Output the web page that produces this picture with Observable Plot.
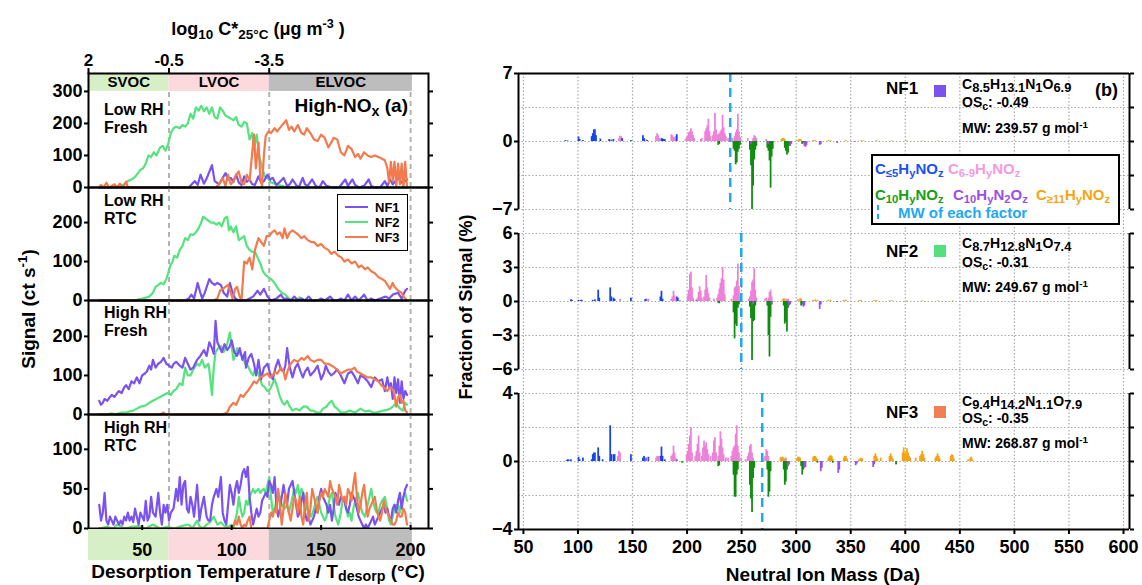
<!DOCTYPE html>
<html><head><meta charset="utf-8">
<script src="https://cdn.jsdelivr.net/npm/d3@7"></script>
<script src="https://cdn.jsdelivr.net/npm/@observablehq/plot@0.6"></script>
<style>
body{margin:0;background:#fff;}
#root{position:relative;width:1142px;height:585px;overflow:hidden;font-family:"Liberation Sans",Arial,sans-serif;font-weight:bold;color:#000;background:#fff;}
.lbl{position:absolute;white-space:nowrap;line-height:1;}
.lbl sub{font-size:75%;vertical-align:-0.28em;line-height:0;}
.lbl sup{font-size:70%;vertical-align:0.55em;line-height:0;}
.fm sub{font-size:92%;vertical-align:-0.22em;}
.xt sub{vertical-align:-0.18em;}
</style>
</head><body><div id="root"></div>
<script>
// ---------------- DATA: panel (a) thermograms [T (°C), signal (ct/s)] ----------------
const lowFreshNF1 = [[26,0],[40,0],[60,0],[76,0],[78,12],[79.5,20],[81,8],[82.6,40],[84.5,12],[86,28],[89,70],[90.5,20],[93,10],[95,30],[96.6,45],[98,25],[99.5,30],[101,18],[102.5,40],[104,15],[105.5,8],[107,35],[108.5,18],[110,25],[111.5,10],[113,8],[115,35],[116.5,15],[118,20],[120,40],[121.5,25],[123,30],[125,8],[126.5,15],[129,30],[131,5],[132.5,10],[134,25],[136,8],[137.5,0],[139.7,30],[141,10],[142.5,5],[145,25],[147,5],[149,0],[151,20],[153,5],[156,0],[160,0],[163.5,25],[165,5],[167.5,25],[169,8],[171,0],[174,5],[176.6,25],[178,5],[180,0],[183,0],[185.6,20],[187,5],[188.5,25],[190,10],[193,30],[195,15],[197,20],[198,25]];
const lowFreshNF2 = [[26,0],[30,0],[34,2],[37,5],[40,10],[42,20],[44,25],[45.5,30],[47,40],[49,55],[50.5,60],[52,75],[53.5,100],[55,95],[56.5,110],[58,100],[60,125],[61.5,130],[63,115],[64.5,135],[66,170],[67.5,185],[69,190],[71,185],[72.5,195],[74,190],[75.5,200],[77,230],[78.5,215],[80,250],[81.5,240],[83,255],[84.5,238],[86,250],[87.5,230],[89,250],[90.5,220],[92,215],[93.5,250],[95,240],[96.5,225],[98,220],[99.5,215],[101,210],[102.5,220],[104,195],[105.5,190],[107,205],[108.5,200],[110,150],[111.5,170],[112.5,120],[114,165],[115.5,95],[117,63],[118.5,35],[120,30],[122,16],[124,12],[126,8],[128,5],[130,2],[133,0],[198,0]];
const lowFreshNF3 = [[26,0],[27,8],[28.5,0],[30,15],[31.5,0],[33,5],[34.5,10],[36,0],[37.5,12],[39,0],[41,18],[42,0],[60,0],[80,0],[91,0],[93,10],[95,30],[96.5,5],[98,40],[99.5,10],[101,20],[102.5,40],[104,50],[105.5,15],[107,10],[108.5,40],[110,20],[111.5,110],[112.5,165],[113.5,60],[115,140],[116,30],[117,5],[118,100],[119,160],[120.5,175],[122,170],[124,185],[125.5,175],[127.5,190],[129,200],[130.5,210],[132,180],[133.5,190],[135,175],[137,195],[139,170],[140.5,165],[142,185],[144,170],[146,150],[148,145],[150,165],[152,155],[154,125],[155.6,140],[157,155],[159,150],[161,110],[163,100],[165,130],[167,120],[169,95],[170.6,105],[172,90],[174,110],[176,100],[178,95],[180,100],[182,95],[184,90],[185.6,85],[187,60],[188,15],[189,80],[190,20],[191,80],[192,5],[193,75],[194,10],[195,75],[196,0],[197,80],[198,0]];

const lowRtcNF1 = [[26,0],[60,0],[74,0],[76,5],[77.5,15],[79,5],[81,45],[82.5,20],[83.5,5],[85,20],[87.5,55],[89,45],[90.5,40],[92,45],[94,40],[95.5,20],[97.5,10],[99,45],[100.5,20],[102,5],[104,0],[108,0],[110,5],[112,10],[114.5,25],[116,15],[118,30],[120,10],[122,0],[125,5],[127.5,15],[129,5],[131,5],[133,0],[135,10],[137,0],[139,5],[141,0],[143,10],[145,0],[148,0],[150,5],[152,0],[155,10],[157,0],[159,0],[161,5],[163,0],[165,15],[167,0],[169,10],[171,0],[174,15],[176,0],[178,5],[180,0],[183,5],[186,10],[188,5],[190,15],[193,20],[195,5],[197,25],[198,30]];
const lowRtcNF2 = [[26,0],[40,0],[46,0],[48,3],[50,5],[52.6,8],[54,10],[56,20],[57.5,35],[59,40],[60.5,45],[62,42],[63.5,55],[64.5,70],[65.7,90],[67,100],[68,115],[69.5,110],[71,130],[72.5,140],[74,160],[75.5,155],[77,170],[78.5,168],[80,175],[81.5,185],[83,200],[84,215],[85.5,210],[87,205],[88.5,200],[90,200],[91.5,195],[93,200],[94.5,190],[96,210],[97.5,215],[98.5,180],[99.5,190],[101,175],[102.5,190],[104,155],[105.5,160],[107,165],[108.5,140],[110,130],[111.5,125],[113,125],[114.5,110],[116,95],[117.5,75],[119,65],[120.5,60],[122,55],[124,45],[126,30],[128,20],[130,15],[132,5],[134,3],[136,0],[138,8],[140,2],[142,0],[198,0]];
const lowRtcNF3 = [[26,0],[60,0],[90,0],[92,5],[93.5,25],[95,30],[96.5,35],[98,40],[99.5,20],[100.5,5],[102,30],[103,35],[104.5,10],[105.5,0],[107,100],[108.5,95],[110,110],[111.5,80],[113,130],[115,160],[116.5,150],[118,140],[119.5,165],[121,165],[122.5,175],[124,180],[125.5,170],[127,175],[128.5,160],[129.5,185],[131,160],[132.5,175],[134,180],[135.5,175],[137,170],[139,160],[140.6,165],[142.5,155],[144.5,150],[146,150],[148,140],[150,145],[152,135],[154,130],[155.6,120],[157.5,125],[159.6,115],[161.5,110],[163,100],[165,105],[167,95],[169,100],[171,85],[172.5,90],[174.5,80],[176,85],[178,75],[180,70],[182,60],[184,55],[185.7,50],[187,40],[188.5,30],[190,45],[191,35],[193,25],[195,20],[196,10],[197,5],[198,0]];

const highFreshNF1 = [[26,35],[27,25],[28,30],[29,40],[30.5,35],[32,45],[33,50],[34.5,45],[36,55],[37,60],[38.5,55],[40,70],[41,75],[42.5,65],[44,85],[45.5,80],[47,95],[48.5,80],[50,100],[51.5,105],[52.6,110],[54,125],[55,115],[56,140],[57.5,120],[59,130],[60.5,135],[62,145],[63.5,130],[65,125],[66.5,120],[67.6,130],[69,135],[71,125],[72.5,120],[74,145],[75.5,130],[77,115],[78.5,120],[80.7,140],[82.5,150],[84.5,165],[86,150],[87.5,185],[89,170],[90,155],[91,240],[92,185],[93,175],[94.5,160],[96,180],[97.5,165],[99,175],[100,190],[101.5,160],[103,150],[104.5,170],[106,140],[107.5,160],[108,120],[109.5,145],[111,155],[112.5,130],[113.7,100],[115,140],[116.5,90],[118,120],[120,130],[121.5,105],[123,90],[124.5,120],[126,140],[127.5,115],[129,110],[130,125],[131,170],[132.5,120],[134,95],[135.5,120],[137,130],[138.5,110],[139.8,95],[141,110],[142.5,120],[144,100],[146,110],[148,125],[150,90],[151.5,105],[152.6,125],[154,110],[155.6,100],[157,105],[159,115],[161,100],[163,80],[165,105],[167,110],[169,95],[170.6,80],[172,100],[174,95],[176,85],[178,70],[180,95],[182,85],[184,90],[185.6,60],[187,95],[188,70],[189,80],[190,40],[191,95],[192,55],[193,90],[194,30],[195,85],[196,40],[197,60],[198,50]];
const highFreshNF2 = [[26,0],[30,0],[33,3],[35,0],[38,5],[41,5],[43,8],[45,10],[47,15],[49,20],[51,22],[52.6,25],[54,30],[56,35],[58,40],[60,45],[62,50],[64,55],[66,50],[67.5,60],[69,65],[71,80],[72.5,75],[74,120],[75.5,100],[77,100],[78.5,115],[80.7,130],[82,125],[83.5,140],[85,120],[87,130],[87.5,115],[89,50],[90,120],[91,160],[92.5,170],[94,175],[95.5,160],[97.5,180],[99,210],[100,175],[101,140],[102,150],[103,170],[104.5,155],[106,150],[107.5,130],[109,125],[110.5,110],[112,100],[113,115],[114.5,110],[116,90],[117,75],[118.5,70],[120,60],[121.5,65],[123,80],[124,90],[125.5,70],[127,45],[128.5,30],[129.5,25],[131,35],[132.5,20],[134,10],[136,15],[138,10],[140,20],[142,20],[144,10],[145.7,10],[147.5,5],[149.5,5],[151,15],[153,20],[154.5,30],[156,35],[157.5,20],[159,15],[161,5],[163,5],[166,10],[169,5],[172,15],[174.5,8],[177,10],[179,5],[181,5],[183,8],[185,10],[187,12],[188.7,15],[190,20],[192,30],[194,15],[195.6,10],[197,30],[198,25]];
const highFreshNF3 = [[26,0],[60,0],[62,5],[63,0],[95,0],[97.5,5],[99,20],[101,30],[102.5,25],[104,40],[105,50],[106.5,45],[108,55],[109,60],[110.5,70],[112.5,85],[114,80],[116,95],[118,100],[120,105],[121.5,95],[123,100],[124,110],[125.5,105],[127.5,120],[129,110],[130,90],[131.5,115],[133,130],[135,140],[137,135],[139,145],[140.5,140],[142.5,150],[144,140],[146,135],[148,140],[150,140],[152,130],[154,130],[156,125],[157.5,120],[159,115],[161,105],[163,110],[165,115],[167,115],[168.7,120],[170,110],[172,105],[174,100],[176,95],[178,95],[180,90],[182,85],[183.6,75],[185,70],[187,60],[188.5,70],[190,65],[191,50],[192,20],[193,45],[194,50],[195,30],[196,35],[197,10],[198,5]];

const highRtcNF1 = [[26,30],[27,10],[28,20],[29,45],[30,10],[31,5],[32,15],[33,10],[34,5],[35,15],[36,10],[37,5],[38,10],[39,5],[40,15],[41,10],[42,20],[43,10],[44,15],[45,8],[46,25],[47,15],[48,5],[49,20],[50,15],[51,10],[52,35],[53,10],[54,15],[55,40],[56,20],[57.5,15],[59,45],[60,20],[61,5],[62,30],[63,20],[64,30],[65,10],[66,20],[67.5,25],[69,50],[70,35],[71,65],[72,30],[73,55],[74,60],[75,25],[76,20],[77,40],[78,30],[79,15],[80.7,55],[82,10],[83,25],[84.5,40],[86,15],[87,10],[88,10],[89,30],[90,40],[91.5,50],[92.5,40],[94,65],[95,20],[96,10],[97,5],[98,30],[99,55],[100,45],[101,30],[102,50],[103,60],[104,45],[105,55],[106,70],[107,75],[108,65],[109,78],[110,40],[111,20],[112,5],[113,15],[114,25],[115,15],[116,20],[117,35],[118,40],[119,45],[120,40],[121,60],[122,55],[123,45],[124,65],[125,30],[126,15],[127,25],[128,40],[129,55],[130,40],[131,30],[132,50],[133,55],[134,60],[135,45],[136,30],[137,15],[138,20],[139,35],[140,45],[141,20],[142,10],[143,15],[144,5],[145,10],[146,15],[147,25],[148,20],[149,40],[150,50],[151,40],[152,35],[153,30],[154,20],[155,30],[156,10],[157,25],[158,45],[159,35],[160,30],[161,40],[163,35],[164,25],[165,20],[166,30],[167,45],[168,40],[169,35],[170,25],[171,15],[172,10],[173,5],[174,0],[175,5],[176,0],[177,5],[178,10],[179,15],[180,5],[181,10],[182,15],[183,20],[184,25],[185,30],[186,20],[187,25],[188,15],[189,10],[190,25],[191,30],[192,20],[193,35],[194,45],[195,25],[196,40],[197,50],[198,55]];
const highRtcNF2 = [[26,0],[30,2],[34,0],[36,5],[38,3],[40,0],[44,2],[48,3],[52,0],[56,5],[60,0],[64,2],[68,0],[72,3],[76,5],[78,0],[80.7,10],[82,3],[84,0],[86,5],[88,8],[90,15],[92,5],[94,8],[96,3],[98,2],[100,5],[101,0],[102,10],[103,20],[104,40],[105,25],[106,15],[107,20],[108,35],[109,30],[110,40],[111,45],[112,50],[113,45],[114,48],[115,50],[116,45],[117,48],[118,50],[119,45],[120,55],[121,65],[122,40],[123,20],[124,25],[125,35],[126,45],[127,40],[128,30],[129.6,25],[131,30],[132,20],[133,30],[134,40],[135,50],[136,45],[137,55],[138,40],[139,50],[140,45],[141,35],[142,25],[143,20],[144.5,15],[146,25],[147,35],[148,40],[149,30],[150,20],[151,15],[152,10],[153,15],[154,30],[155,40],[156,45],[157,30],[158,15],[159.6,5],[161,20],[162,35],[163,40],[164,25],[165,15],[166,20],[167,10],[168,25],[169,35],[170.6,45],[172,30],[173,20],[174.5,15],[176,30],[177,40],[178,50],[179,35],[180,25],[181,20],[182,20],[183,30],[184,35],[185.6,40],[187,25],[188,10],[189,5],[190,15],[191,25],[192,30],[193,30],[194,20],[195,35],[196,40],[197,45],[198,35]];
const highRtcNF3 = [[26,0],[60,0],[100,0],[101,3],[102,10],[103,5],[104,15],[105,5],[106,0],[107,5],[108,3],[109,10],[110,15],[111,0],[120,0],[121,10],[122,20],[123,15],[124,25],[125,20],[126,50],[127,30],[128,5],[129,25],[130,45],[131,30],[132,20],[133,10],[134,25],[135,40],[136,35],[137,20],[138,40],[139,15],[140,5],[141,30],[142,45],[143,10],[144,25],[145,50],[146,40],[147,30],[148,20],[149,35],[150,45],[151,40],[152,50],[153,45],[154,40],[155,60],[156,50],[157,45],[158,40],[159,30],[160,55],[161,45],[162,35],[163,40],[164,30],[165,50],[166,45],[167,35],[168,55],[169,70],[170,40],[171,20],[172,30],[173,45],[174,55],[175,35],[176,15],[177,25],[178,30],[179,35],[180,40],[181,25],[182,15],[183,10],[184,20],[185,35],[186,25],[187,20],[188,15],[189,10],[190,5],[191,5],[192,10],[193,20],[194,15],[195,15],[196,25],[197,20],[198,5]];

// panel (a) axes / categories
const factorNames = ["NF1","NF2","NF3"];
const factorColors = ["#7a52f0","#55e37e","#f27a4c"];
const factorSquares = ["#7b52ee","#55e07e","#f07f55"];
const panelLabels = ["Low RH<br>Fresh","Low RH<br>RTC","High RH<br>Fresh","High RH<br>RTC"];
const p1Ticks = [0,100,200,300];
const p2Ticks = [0,100,200];
const p3Ticks = [0,100,200];
const p4Ticks = [0,50,100];
const topTickTemps = [20,65,121];
const topTickLabels = ["2","-0.5","-3.5"];
const bottomTicks = [50,100,150,200];
const bandNames = ["SVOC","LVOC","ELVOC"];
const bandEdges = [20,65,121,201];
const bandColors = ["#d7efc6","#fcd9dd","#bdbdbd"];
const dashTemps = [65,121,200];

// ---------------- DATA: panel (b) mass spectra [mass (Da), fraction (%), family] ----------------
const catKeys = ["C5","C69","C10","C10N2","C11"];
const catColors = ["#1444ec","#ee80d8","#0f8c0f","#9a4fe6","#f5a30e"];
const nf1Bars = [
[89,0.1,"C5"],[91,0.05,"C5"],[101,0.45,"C5"],[102,0.2,"C5"],[105,0.1,"C5"],
[113,0.5,"C5"],[114,0.8,"C5"],[115,1.2,"C5"],[116,1.2,"C5"],[117,0.6,"C5"],[121,0.25,"C5"],
[129,0.2,"C5"],[131,0.15,"C5"],[133,0.2,"C5"],
[138,0.3,"C69"],[139,0.55,"C69"],[140,0.5,"C69"],[141,0.3,"C5"],[149,0.1,"C5"],
[160,0.6,"C5"],[161,0.3,"C5"],[163,0.2,"C69"],[164,0.1,"C5"],
[172,0.5,"C69"],[173,0.8,"C69"],[174,0.6,"C69"],[175,0.3,"C69"],[177,0.3,"C5"],[178,0.25,"C5"],[179,0.2,"C5"],[180,0.2,"C5"],
[186,0.7,"C69"],[187,0.6,"C69"],[188,0.4,"C69"],[189,0.4,"C69"],[190,0.5,"C69"],[191,0.7,"C5"],
[199,0.2,"C69"],[200,0.4,"C69"],[201,0.6,"C69"],[202,0.9,"C69"],[203,1.0,"C69"],[204,1.3,"C69"],[205,1.0,"C69"],[206,0.6,"C69"],[207,0.3,"C69"],
[213,0.2,"C69"],[214,0.3,"C69"],
[217,1.0,"C69"],[218,1.3,"C69"],[219,1.6,"C69"],[220,2.3,"C69"],[221,1.0,"C69"],[222,0.5,"C69"],
[224,0.6,"C69"],[225,1.0,"C69"],[226,2.9,"C69"],[227,1.2,"C69"],[228,0.7,"C69"],[229,0.7,"C69"],[230,0.8,"C69"],[231,1.0,"C69"],[232,1.2,"C69"],[233,2.7,"C69"],[234,1.4,"C69"],[235,0.8,"C69"],[236,0.5,"C69"],
[238,0.3,"C69"],[240,0.3,"C69"],[242,0.3,"C69"],[244,0.5,"C69"],[245,0.9,"C69"],[246,1.2,"C69"],[247,2.8,"C69"],[248,1.0,"C69"],[249,0.4,"C69"],
[256,0.3,"C69"],[261,0.3,"C69"],[262,0.6,"C69"],[263,0.5,"C69"],[264,0.3,"C69"],[273,0.2,"C69"],
[287,0.2,"C11"],[288,0.3,"C11"],[289,0.3,"C11"],[290,0.2,"C11"],[302,0.1,"C11"],[303,0.2,"C11"],[304,0.2,"C11"],[305,0.15,"C11"],
[316,0.1,"C11"],[318,0.1,"C11"],[330,0.1,"C11"],[332,0.08,"C11"],[346,0.1,"C11"],[360,0.08,"C11"],[362,0.06,"C11"],[374,0.08,"C11"],[388,0.06,"C11"],[402,0.06,"C11"],[416,0.05,"C11"],[430,0.05,"C11"],
[229,-0.4,"C10"],[230,-0.3,"C10"],[243,-0.8,"C10"],[244,-1.0,"C10"],[245,-2.4,"C10"],[246,-2.2,"C10"],[247,-1.1,"C10"],[248,-0.8,"C10"],[249,-0.4,"C10"],
[258,-0.9,"C10"],[259,-2.5,"C10"],[260,-7.0,"C10"],[261,-4.6,"C10"],[262,-1.9,"C10"],[263,-0.9,"C10"],[264,-0.5,"C10"],
[274,-0.7,"C10"],[275,-1.0,"C10"],[276,-2.0,"C10"],[277,-4.8,"C10"],[278,-1.6,"C10"],[279,-0.8,"C10"],
[290,-0.7,"C10"],[291,-1.0,"C10"],[292,-1.4,"C10"],[293,-1.2,"C10"],[294,-0.5,"C10"],[306,-0.3,"C10"],[307,-0.2,"C10"],
[259,-0.3,"C10N2"],[275,-0.3,"C10N2"],[295,-0.5,"C10N2"],[296,-0.3,"C10N2"],[308,-0.5,"C10N2"],[309,-0.6,"C10N2"],[310,-0.4,"C10N2"],[322,-0.4,"C10N2"],[323,-0.3,"C10N2"],[338,-0.2,"C10N2"],[354,-0.1,"C10N2"]
];
const nf2Bars = [
[94,0.15,"C5"],[95,0.1,"C5"],[101,0.1,"C5"],[103,0.1,"C5"],[104,0.1,"C5"],[114,0.1,"C5"],[116,0.15,"C5"],[119,1.0,"C5"],[120,0.3,"C5"],[130,1.2,"C5"],[131,0.4,"C5"],[133,0.3,"C5"],[134,0.2,"C5"],[149,0.3,"C5"],[162,0.15,"C5"],[163,0.2,"C5"],[176,0.4,"C5"],[177,0.9,"C5"],[178,0.2,"C5"],[191,0.4,"C5"],[192,0.3,"C5"],[209,0.1,"C5"],
[139,0.2,"C69"],[164,0.15,"C69"],[165,0.2,"C69"],[186,0.2,"C69"],[187,0.4,"C69"],[188,0.9,"C69"],[189,0.5,"C69"],[190,0.2,"C69"],[194,0.1,"C69"],
[201,0.5,"C69"],[202,1.0,"C69"],[203,2.4,"C69"],[204,2.6,"C69"],[205,1.2,"C69"],[206,0.3,"C69"],
[210,0.3,"C69"],[211,0.8,"C69"],[212,1.3,"C69"],[213,0.9,"C69"],[214,0.3,"C69"],
[216,0.4,"C69"],[217,1.0,"C69"],[218,2.3,"C69"],[219,1.2,"C69"],[220,0.7,"C69"],[221,0.3,"C69"],
[225,0.2,"C69"],[228,0.3,"C69"],[229,0.6,"C69"],[230,1.1,"C69"],[231,1.6,"C69"],[232,2.0,"C69"],[233,3.0,"C69"],[234,1.9,"C69"],[235,0.6,"C69"],
[241,0.2,"C69"],[243,0.5,"C69"],[244,1.2,"C69"],[245,1.3,"C69"],[246,1.8,"C69"],[247,3.3,"C69"],[248,1.3,"C69"],[249,0.4,"C69"],
[257,0.2,"C69"],[258,0.4,"C69"],[259,0.9,"C69"],[260,1.7,"C69"],[261,1.9,"C69"],[262,2.9,"C69"],[263,1.0,"C69"],[264,0.3,"C69"],
[272,0.2,"C69"],[273,0.3,"C69"],[275,0.3,"C69"],[276,0.8,"C69"],[277,1.0,"C69"],[278,0.4,"C69"],[292,0.2,"C69"],[293,0.2,"C69"],
[288,0.15,"C11"],[289,0.25,"C11"],[290,0.2,"C11"],[302,0.15,"C11"],[304,0.25,"C11"],[305,0.2,"C11"],[316,0.1,"C11"],[318,0.15,"C11"],[320,0.1,"C11"],[330,0.12,"C11"],[332,0.1,"C11"],[344,0.1,"C11"],[346,0.12,"C11"],[358,0.08,"C11"],[360,0.1,"C11"],[372,0.08,"C11"],[374,0.1,"C11"],[386,0.06,"C11"],[388,0.07,"C11"],[402,0.05,"C11"],[416,0.05,"C11"],[430,0.05,"C11"],[444,0.05,"C11"],[460,0.05,"C11"],
[229,-0.15,"C10"],[230,-0.2,"C10"],[243,-1.0,"C10"],[244,-3.3,"C10"],[245,-2.0,"C10"],[246,-2.2,"C10"],[247,-0.6,"C10"],[248,-0.3,"C10"],
[258,-0.5,"C10"],[259,-1.5,"C10"],[260,-5.2,"C10"],[261,-1.8,"C10"],[262,-1.7,"C10"],[263,-0.4,"C10"],
[274,-0.4,"C10"],[275,-3.0,"C10"],[276,-4.9,"C10"],[277,-1.4,"C10"],[278,-0.3,"C10"],
[289,-0.4,"C10"],[290,-2.0,"C10"],[291,-1.8,"C10"],[292,-2.7,"C10"],[293,-0.6,"C10"],[305,-0.4,"C10"],[306,-0.3,"C10"],
[261,-0.3,"C10N2"],[278,-0.3,"C10N2"],[294,-0.4,"C10N2"],[295,-0.3,"C10N2"],[307,-0.5,"C10N2"],[308,-0.4,"C10N2"],[322,-0.7,"C10N2"],[323,-0.3,"C10N2"],[338,-0.1,"C10N2"]
];
const nf3Bars = [
[90,0.05,"C5"],[91,0.1,"C5"],[92,0.08,"C5"],[94,0.1,"C5"],[101,0.25,"C5"],[102,0.1,"C5"],[105,0.2,"C5"],[113,0.1,"C5"],[114,0.4,"C5"],[115,0.5,"C5"],[116,0.5,"C5"],[119,0.8,"C5"],[120,0.3,"C5"],[123,0.1,"C5"],[130,2.1,"C5"],[131,0.4,"C5"],[133,0.4,"C5"],[134,0.4,"C5"],[149,0.4,"C5"],[160,0.2,"C5"],[161,0.3,"C5"],[163,0.2,"C5"],[165,0.25,"C5"],[176,0.3,"C5"],[177,0.85,"C5"],[178,0.3,"C5"],[180,0.1,"C5"],[191,0.1,"C5"],
[137,0.3,"C69"],[138,0.6,"C69"],[139,0.5,"C69"],[164,0.2,"C69"],[172,0.2,"C69"],[173,0.3,"C69"],[174,0.3,"C69"],[175,0.2,"C69"],[186,0.3,"C69"],[187,0.4,"C69"],[188,0.9,"C69"],[189,0.5,"C69"],[190,0.2,"C69"],
[200,0.4,"C69"],[201,0.6,"C69"],[202,1.0,"C69"],[203,1.5,"C69"],[204,2.0,"C69"],[205,0.5,"C69"],[208,0.3,"C69"],[209,0.6,"C69"],[210,1.0,"C69"],[211,1.5,"C69"],[212,0.5,"C69"],
[214,0.3,"C69"],[215,0.8,"C69"],[216,1.2,"C69"],[217,0.9,"C69"],[218,1.1,"C69"],[219,0.7,"C69"],[220,0.4,"C69"],[222,0.3,"C69"],[224,0.5,"C69"],[225,1.2,"C69"],[226,1.4,"C69"],[227,0.5,"C69"],
[229,0.3,"C69"],[230,0.9,"C69"],[231,1.75,"C69"],[232,1.3,"C69"],[233,0.8,"C69"],[234,0.4,"C69"],[236,0.2,"C69"],[238,0.2,"C69"],
[241,0.3,"C69"],[242,0.6,"C69"],[243,0.8,"C69"],[244,0.9,"C69"],[245,1.6,"C69"],[246,2.1,"C69"],[247,0.9,"C69"],[248,0.5,"C69"],[250,0.2,"C69"],[254,0.1,"C69"],
[256,0.3,"C69"],[257,0.5,"C69"],[258,0.9,"C69"],[259,1.0,"C69"],[260,0.5,"C69"],[261,0.2,"C69"],[270,0.2,"C69"],[272,0.3,"C69"],[273,0.7,"C69"],[274,0.6,"C69"],[275,0.3,"C69"],[289,0.2,"C69"],[290,0.15,"C69"],
[286,0.2,"C11"],[287,0.25,"C11"],[288,0.25,"C11"],[291,0.2,"C11"],[301,0.15,"C11"],[302,0.25,"C11"],[303,0.25,"C11"],[304,0.2,"C11"],[316,0.25,"C11"],[317,0.3,"C11"],[318,0.3,"C11"],[319,0.2,"C11"],[320,0.1,"C11"],
[330,0.2,"C11"],[331,0.3,"C11"],[332,0.35,"C11"],[333,0.3,"C11"],[334,0.15,"C11"],[344,0.2,"C11"],[345,0.3,"C11"],[346,0.3,"C11"],[347,0.15,"C11"],[358,0.1,"C11"],[359,0.15,"C11"],[360,0.2,"C11"],[361,0.15,"C11"],
[372,0.3,"C11"],[373,0.45,"C11"],[374,0.3,"C11"],[375,0.15,"C11"],[378,0.2,"C11"],[386,0.3,"C11"],[387,0.45,"C11"],[388,0.3,"C11"],[389,0.15,"C11"],
[398,0.5,"C11"],[399,0.8,"C11"],[400,0.5,"C11"],[401,0.4,"C11"],[402,0.75,"C11"],[403,0.5,"C11"],[404,0.3,"C11"],[405,0.2,"C11"],[410,0.2,"C11"],
[414,0.3,"C11"],[415,0.4,"C11"],[416,0.6,"C11"],[417,0.4,"C11"],[418,0.2,"C11"],[428,0.2,"C11"],[429,0.3,"C11"],[430,0.45,"C11"],[431,0.3,"C11"],[432,0.15,"C11"],
[442,0.3,"C11"],[443,0.4,"C11"],[444,0.35,"C11"],[445,0.15,"C11"],[458,0.1,"C11"],[460,0.2,"C11"],[461,0.25,"C11"],[462,0.1,"C11"],
[196,-0.1,"C10"],[229,-0.3,"C10"],[230,-0.25,"C10"],[243,-0.8,"C10"],[244,-2.1,"C10"],[245,-2.1,"C10"],[246,-0.8,"C10"],[247,-0.5,"C10"],
[258,-1.4,"C10"],[259,-2.2,"C10"],[260,-3.0,"C10"],[261,-1.0,"C10"],[262,-0.4,"C10"],[274,-0.5,"C10"],[275,-2.1,"C10"],[276,-1.8,"C10"],[277,-0.6,"C10"],
[289,-0.5,"C10"],[290,-1.4,"C10"],[291,-1.2,"C10"],[292,-0.5,"C10"],[305,-0.3,"C10"],[306,-0.8,"C10"],[307,-0.5,"C10"],[320,-0.1,"C10"],[334,-0.1,"C10"],[392,-0.2,"C10"],
[293,-0.3,"C10N2"],[294,-0.2,"C10N2"],[308,-0.4,"C10N2"],[309,-0.35,"C10N2"],[323,-0.6,"C10N2"],[324,-0.4,"C10N2"],[339,-0.7,"C10N2"],[340,-0.5,"C10N2"],[355,-0.25,"C10N2"],[356,-0.15,"C10N2"],[371,-0.35,"C10N2"],[372,-0.2,"C10N2"]
];
const mwValues = [239.57, 249.67, 268.87];
const formulas = ["C<sub>8.5</sub>H<sub>13.1</sub>N<sub>1</sub>O<sub>6.9</sub>","C<sub>8.7</sub>H<sub>12.8</sub>N<sub>1</sub>O<sub>7.4</sub>","C<sub>9.4</sub>H<sub>14.2</sub>N<sub>1.1</sub>O<sub>7.9</sub>"];
const osc = ["-0.49","-0.31","-0.35"];
const massTicks = [50,100,150,200,250,300,350,400,450,500,550,600];
const s1Labels = [-7,0,7], s1Grid = [-7,-3.5,0,3.5,7];
const s2Labels = [-6,-3,0,3,6], s2Grid = [-6,-3,0,3,6];
const s3Labels = [-4,0,4], s3Grid = [-4,-2,0,2,4];
const mwColor = "#1fa9f0";

// ---------------- RENDER ----------------
const root = document.getElementById("root");
const FONT = "'Liberation Sans', Arial, sans-serif";
const svgStyle = {background: "transparent", overflow: "visible", fontFamily: FONT, fontWeight: "bold", fontSize: "17px", color: "#000"};
function put(node, left, top, w) {
  const d = document.createElement("div");
  d.style.cssText = `position:absolute;left:${left}px;top:${top}px;width:${w}px;`;
  d.appendChild(node); root.appendChild(d); return d;
}
function label(html, left, top, css = "") {
  const d = document.createElement("div");
  d.className = "lbl";
  d.style.cssText = `left:${left}px;top:${top}px;${css}`;
  d.innerHTML = html; root.appendChild(d); return d;
}

// ----- panel (a)
const tDomain = [20, 210];
const bands = bandNames.map((n, i) => ({name: n, x1: bandEdges[i], x2: bandEdges[i + 1], color: bandColors[i]}));
const lineStyle = {strokeWidth: 2.2, strokeLinejoin: "round"};
const leftCfg = [
  {top: 33, mt: 40, h: 114, ymax: 356, ticks: p1Ticks, series: [lowFreshNF2, lowFreshNF1, lowFreshNF3], first: true},
  {top: 187, mt: 0, h: 113, ymax: 290, ticks: p2Ticks, series: [lowRtcNF2, lowRtcNF1, lowRtcNF3]},
  {top: 300, mt: 0, h: 114, ymax: 292, ticks: p3Ticks, series: [highFreshNF2, highFreshNF1, highFreshNF3]},
  {top: 414, mt: 0, h: 114, ymax: 144, ticks: p4Ticks, series: [highRtcNF2, highRtcNF1, highRtcNF3]}
];
const seriesColorOrder = [factorColors[1], factorColors[0], factorColors[2]];
leftCfg.forEach(cfg => {
  const marks = [];
  if (cfg.first) {
    marks.push(Plot.rect(bands, {x1: "x1", x2: "x2", y1: 300, y2: cfg.ymax, fill: "color"}));
    marks.push(Plot.text(bands, {x: d => (d.x1 + d.x2) / 2, y: 328, text: "name", fontSize: 15, fontWeight: "bold"}));
    marks.push(Plot.ruleX(dashTemps, {y1: 0, y2: 300, stroke: "#b3b3b3", strokeWidth: 2, strokeDasharray: "5,4"}));
  } else {
    marks.push(Plot.ruleX(dashTemps, {stroke: "#b3b3b3", strokeWidth: 2, strokeDasharray: "5,4"}));
  }
  cfg.series.forEach((s, i) => marks.push(Plot.line(s, {x: d => d[0], y: d => d[1], stroke: seriesColorOrder[i], ...lineStyle})));
  marks.push(Plot.frame({stroke: "#000", strokeWidth: 2}));
  marks.push(Plot.axisY({anchor: "left", ticks: cfg.ticks, tickSize: 4, tickPadding: 2, fontSize: 18, strokeWidth: 2}));
  marks.push(Plot.axisY({anchor: "right", ticks: cfg.ticks, tickSize: 4, tickFormat: () => "", strokeWidth: 2}));
  if (cfg.first) marks.push(Plot.axisX({anchor: "top", ticks: topTickTemps, tickSize: 6, tickPadding: 2, fontSize: 17, strokeWidth: 2, tickFormat: d => topTickLabels[topTickTemps.indexOf(d)]}));
  const p = Plot.plot({width: 440, height: cfg.mt + cfg.h, marginLeft: 88, marginRight: 12, marginTop: cfg.mt, marginBottom: 0,
    x: {domain: tDomain, axis: null}, y: {domain: [0, cfg.ymax], axis: null}, color: {type: "identity"}, style: svgStyle, marks});
  put(p, 0, cfg.top, 440);
});
// bottom band strip with temperature tick labels
put(Plot.plot({width: 440, height: 31, marginLeft: 88, marginRight: 12, marginTop: 0, marginBottom: 0,
  x: {domain: tDomain, axis: null}, color: {type: "identity"}, style: svgStyle,
  marks: [
    Plot.rect(bands, {x1: "x1", x2: "x2", fill: "color"}),
    Plot.text(bottomTicks, {x: d => d, text: d => String(d), frameAnchor: "middle", dy: 5, fontSize: 18, fontWeight: "bold"}),
    Plot.axisX({anchor: "top", ticks: bottomTicks, tickSize: 5, tickFormat: () => "", strokeWidth: 2})
  ]}), 0, 529, 440);

// panel (a) texts
panelLabels.forEach((t, i) => label(t, 104, [101, 192, 304, 419][i], "font-size:16px;line-height:18px;"));
label("High-NO<sub>x</sub> (a)", 408, 96, "font-size:19px;transform:translateX(-100%);");
label("log<sub>10</sub> C*<sub>25°C</sub> (μg m<sup>-3</sup> )", 258, 20, "font-size:18px;transform:translateX(-50%);");
label("Desorption Temperature / T<sub>desorp</sub> (°C)", 258, 562, "font-size:19px;transform:translateX(-50%);").classList.add("xt");
label("Signal (ct s<sup>-1</sup>)", 28, 309, "font-size:19px;transform:translate(-50%,-50%) rotate(-90deg);");
// panel (a) legend
{
  const box = document.createElement("div");
  box.style.cssText = "position:absolute;left:337px;top:194px;width:69px;height:55px;border:1.5px solid #000;background:#fff;";
  root.appendChild(box);
  factorNames.forEach((n, i) => {
    const ln = document.createElement("div");
    ln.style.cssText = `position:absolute;left:345px;top:${206 + i * 15}px;width:23px;height:0;border-top:2.5px solid ${factorColors[i]};`;
    root.appendChild(ln);
    label(n, 375, 201 + i * 15, "font-size:13px;");
  });
}

// ----- panel (b)
const massDomain = [45.5, 605.5];
const gridStyle = {stroke: "#a9a9a9", strokeOpacity: 1, strokeDasharray: "1.5,2", strokeWidth: 1.2};
put(Plot.plot({width: 692, height: 456, marginLeft: 68, marginRight: 13, marginTop: 0, marginBottom: 0,
  x: {domain: massDomain, axis: null}, style: svgStyle,
  marks: [Plot.gridX({ticks: massTicks, ...gridStyle})]}), 450, 73, 692);

const rightCfg = [
  {top: 73, h: 136, mb: 0, dom: [-7, 7], labels: s1Labels, grid: s1Grid, bars: nf1Bars, mw: mwValues[0], topLine: true},
  {top: 233, h: 136, mb: 0, dom: [-6, 6], labels: s2Labels, grid: s2Grid, bars: nf2Bars, mw: mwValues[1]},
  {top: 393, h: 136, mb: 30, dom: [-4, 4], labels: s3Labels, grid: s3Grid, bars: nf3Bars, mw: mwValues[2], bottomAxis: true}
];
rightCfg.forEach(cfg => {
  const marks = [
    Plot.gridY({ticks: cfg.grid, ...gridStyle}),
    Plot.rect(cfg.bars, {x1: d => d[0] - 0.8, x2: d => d[0] + 0.8, y1: 0, y2: d => d[1], fill: d => d[2]}),
    Plot.ruleX([cfg.mw], {stroke: mwColor, strokeWidth: 2.5, strokeDasharray: "9,6"}),
    Plot.ruleX(massDomain, {stroke: "#000", strokeWidth: 2}),
    Plot.axisY({anchor: "left", ticks: cfg.labels, tickSize: 4, tickPadding: 2, fontSize: 18, strokeWidth: 2}),
    Plot.axisY({anchor: "right", ticks: cfg.grid, tickSize: 4, tickFormat: () => "", strokeWidth: 2})
  ];
  if (cfg.topLine) marks.push(Plot.ruleY([cfg.dom[1]], {stroke: "#000", strokeWidth: 2}));
  if (cfg.bottomAxis) {
    marks.push(Plot.ruleY([cfg.dom[0]], {stroke: "#000", strokeWidth: 2}));
    marks.push(Plot.axisX({anchor: "bottom", ticks: massTicks, tickSize: 5, tickPadding: 6, fontSize: 18, strokeWidth: 2}));
  }
  const p = Plot.plot({width: 692, height: cfg.h + cfg.mb, marginLeft: 68, marginRight: 13, marginTop: 0, marginBottom: cfg.mb,
    x: {domain: massDomain, axis: null}, y: {domain: cfg.dom, axis: null},
    color: {domain: catKeys, range: catColors}, style: svgStyle, marks});
  put(p, 450, cfg.top, 692);
});

// panel (b) annotations
const annTop = [
  {nf: 80, sq: 85, f: 77, o: 95, mw: 121},
  {nf: 243, sq: 245, f: 236, o: 255, mw: 280},
  {nf: 404, sq: 406, f: 394, o: 411, mw: 436}
];
annTop.forEach((a, i) => {
  label(factorNames[i], 886, a.nf, "font-size:17px;");
  const sq = document.createElement("div");
  sq.style.cssText = `position:absolute;left:934px;top:${a.sq}px;width:12px;height:12px;background:${factorSquares[i]};`;
  root.appendChild(sq);
  label(formulas[i], 962, a.f, "font-size:14px;").classList.add("fm");
  label("OS<sub>c</sub>: " + osc[i], 962, a.o, "font-size:14px;");
  label("MW: " + mwValues[i].toFixed(2) + " g mol<sup>-1</sup>", 962, a.mw, "font-size:14px;");
});
label("(b)", 1095, 81, "font-size:18px;");
// panel (b) legend
{
  const box = document.createElement("div");
  box.style.cssText = "position:absolute;left:871px;top:154px;width:245px;height:67px;border:2px solid #000;background:#fff;";
  root.appendChild(box);
  const lc = ["#1a52f0", "#f49ae2", "#14a014", "#9c4ee6", "#f7a50f"];
  label("C<sub>≤5</sub>H<sub>y</sub>NO<sub>z</sub>", 875, 161, `font-size:15px;color:${lc[0]};`);
  label("C<sub>6-9</sub>H<sub>y</sub>NO<sub>z</sub>", 948, 161, `font-size:15px;color:${lc[1]};`);
  label("C<sub>10</sub>H<sub>y</sub>NO<sub>z</sub>", 875, 187, `font-size:15px;color:${lc[2]};`);
  label("C<sub>10</sub>H<sub>y</sub>N<sub>2</sub>O<sub>z</sub>", 953, 187, `font-size:15px;color:${lc[3]};`);
  label("C<sub>≥11</sub>H<sub>y</sub>NO<sub>z</sub>", 1036, 187, `font-size:15px;color:${lc[4]};`);
  const dash = document.createElement("div");
  dash.style.cssText = `position:absolute;left:877px;top:205px;width:0;height:14px;border-left:2.5px dashed ${mwColor};`;
  root.appendChild(dash);
  label("MW of each factor", 898, 205, `font-size:15px;color:${mwColor};`);
}
label("Fraction of Signal (%)", 466, 307, "font-size:18px;transform:translate(-50%,-50%) rotate(-90deg);");
label("Neutral Ion Mass (Da)", 823, 565, "font-size:19px;transform:translateX(-50%);");
</script></body></html>
